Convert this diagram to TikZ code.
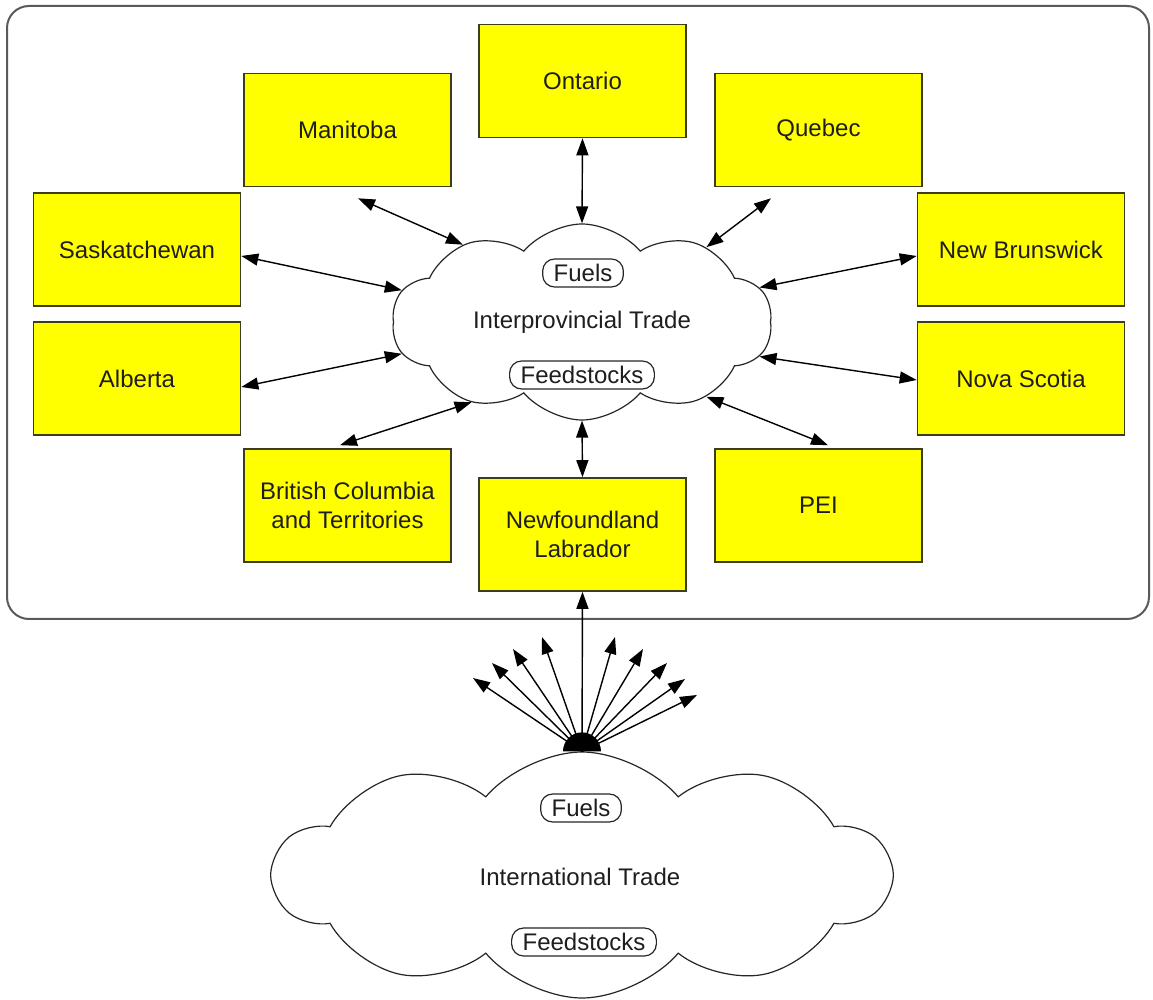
\documentclass[tikz,border=0pt]{standalone}
\usepackage{fontspec}
\setmainfont{Liberation Sans}
\usetikzlibrary{shapes.symbols,arrows.meta,calc}
\definecolor{boxyellow}{RGB}{255,255,0}
\definecolor{boxedge}{RGB}{60,60,30}
\definecolor{frameedge}{RGB}{90,90,90}
\definecolor{txt}{RGB}{30,30,30}
\tikzset{
  prov/.style={draw=boxedge, line width=0.8pt, fill=boxyellow, minimum width=103.5pt,
    minimum height=56.5pt, inner sep=0pt, align=center, text=txt,
    font=\fontsize{12}{14.5}\selectfont},
  tradecloud/.style={cloud, draw=black!85, line width=0.6pt, cloud puffs=10, cloud puff arc=100,
    cloud ignores aspect, inner sep=0pt, fill=white},
  lbl/.style={draw=black!85, line width=0.6pt, rounded corners=6pt, inner xsep=5.5pt,
    inner ysep=0pt, minimum height=14pt, text=txt, font=\fontsize{12}{14.5}\selectfont},
  plain/.style={text=txt, font=\fontsize{12}{14.5}\selectfont},
  link/.style={line width=0.7pt, {Triangle[length=8.5pt,width=6pt]}-{Triangle[length=8.5pt,width=6pt]}},
  fan/.style={line width=0.7pt, -{Triangle[length=8.5pt,width=6pt]}}
}
\begin{document}
\begin{tikzpicture}[x=0.5pt,y=-0.5pt]
\useasboundingbox (0,0) rectangle (1153,1000);
% frame
\draw[frameedge, line width=1pt, rounded corners=11pt] (7,6) rectangle (1149,619);
% provinces
\node[prov] (ont) at (582.5,81) {Ontario};
\node[prov] (man) at (347.5,130) {Manitoba};
\node[prov] (que) at (818.5,130) {Quebec};
\node[prov] (sas) at (137,249.5) {Saskatchewan};
\node[prov] (nb) at (1021,249.5) {New Brunswick};
\node[prov] (alb) at (137,378.5) {Alberta};
\node[prov] (ns) at (1021,378.5) {Nova Scotia};
\node[prov] (bc) at (347.5,505.5) {British Columbia\\and Territories};
\node[prov] (nl) at (582.5,534.5) {Newfoundland\\Labrador};
\node[prov] (pei) at (818.5,505.5) {PEI};
% interprovincial cloud
\node[tradecloud, minimum width=190pt, minimum height=98pt] (ipc) at (582,322) {};
\node[lbl] (ipfuel) at (583,273) {Fuels};
\node[plain] (iptxt) at (582,322) {Interprovincial Trade};
\node[lbl] (ipfeed) at (582,375) {Feedstocks};
% links
\draw[link] ([xshift=5.25pt,yshift=-5.5pt]man.south) -- (ipc.147.6);
\draw[link] (ont.south) -- (ipc.north);
\draw[link] ([xshift=-23.75pt,yshift=-5.5pt]que.south) -- (ipc.31.8);
\draw[link] ([yshift=-3.25pt]sas.east) -- (ipc.170.3);
\draw[link] ([yshift=-3.25pt]nb.west) -- (ipc.11.8);
\draw[link] ([yshift=-4.25pt]alb.east) -- (ipc.-170.2);
\draw[link] ([yshift=-0.75pt]ns.west) -- (ipc.-11.1);
\draw[link] ([xshift=-3.75pt,yshift=1.5pt]bc.north) -- (ipc.-144.1);
\draw[link] (nl.north) -- (ipc.south);
\draw[link] ([xshift=4.75pt,yshift=1.5pt]pei.north) -- (ipc.-31.5);
% international cloud
\node[tradecloud, minimum width=308pt, minimum height=123pt] (itc) at (582,875) {};
\node[lbl] (itfuel) at (581,808) {Fuels};
\node[plain] (ittxt) at (580,877) {International Trade};
\node[lbl] (itfeed) at (584,942) {Feedstocks};
% fan
\coordinate (f1) at (473,678);
\coordinate (f2) at (492,663);
\coordinate (f3) at (513,649);
\coordinate (f4) at (542,637);
\coordinate (f5) at (615,637);
\coordinate (f6) at (643,649);
\coordinate (f7) at (667,663);
\coordinate (f8) at (685,679);
\coordinate (f9) at (697,695);
\foreach \f in {f1,f2,f3,f4,f5,f6,f7,f8,f9} \draw[fan] (itc.north) -- (\f);
\draw[fan] (itc.north) -- (nl.south);
\fill ([xshift=-9.5pt]itc.north) arc[start angle=180,end angle=0,radius=9.5pt] -- cycle;
\end{tikzpicture}
\end{document}
